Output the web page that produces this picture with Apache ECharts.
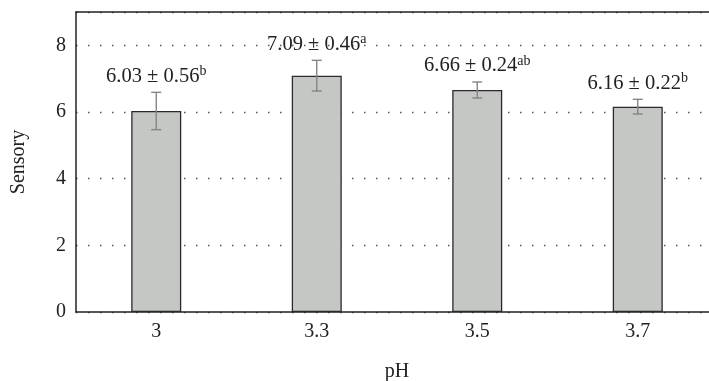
<!DOCTYPE html>
<html>
<head>
<meta charset="utf-8">
<script src="https://cdn.jsdelivr.net/npm/echarts@6/dist/echarts.min.js"></script>
<style>html,body{margin:0;padding:0;background:#fff;}#c{width:709px;height:381px;}</style>
</head>
<body>
<div id="c"></div>
<script>
const categories = ['3', '3.3', '3.5', '3.7'];
const means = [6.03, 7.09, 6.66, 6.16];
const errors = [0.56, 0.46, 0.24, 0.22];
const letters = ['b', 'a', 'ab', 'b'];
const yTicks = [0, 2, 4, 6, 8];

const FONT = 'Liberation Serif';
const chart = echarts.init(document.getElementById('c'));
const errData = means.map((m, i) => [i, m, errors[i], letters[i]]);

chart.setOption({
  animation: false,
  grid: { left: 76, top: 12, width: 642, height: 300, containLabel: false, outerBoundsMode: 'none' },
  xAxis: [{
    type: 'category',
    data: categories,
    axisTick: { show: false },
    axisLine: { lineStyle: { color: '#222', width: 1.5 } },
    axisLabel: { fontFamily: FONT, fontSize: 20, color: '#222', margin: 10 },
    name: 'pH',
    nameLocation: 'middle',
    nameGap: 50,
    nameTextStyle: { fontFamily: FONT, fontSize: 20, color: '#222' }
  }, {
    type: 'category',
    data: categories,
    position: 'top',
    axisTick: { show: false },
    axisLabel: { show: false },
    axisLine: { lineStyle: { color: '#222', width: 1.5 } }
  }],
  yAxis: {
    type: 'value',
    min: 0, max: 9, interval: 2,
    axisLine: { show: true, lineStyle: { color: '#222', width: 1.5 } },
    axisTick: { show: false },
    axisLabel: {
      fontFamily: FONT, fontSize: 20, color: '#222', margin: 10,
      formatter: v => (yTicks.indexOf(v) >= 0 ? String(v) : '')
    },
    splitLine: { show: true, lineStyle: { color: '#555', type: [1.5, 10.5], width: 1.3 } },
    name: 'Sensory',
    nameLocation: 'middle',
    nameGap: 47,
    nameTextStyle: { fontFamily: FONT, fontSize: 20, color: '#222' }
  },
  series: [{
    type: 'bar',
    data: means,
    barWidth: 50,
    itemStyle: { color: '#c5c7c5', borderColor: '#2a2a2a', borderWidth: 1.3 }
  }, {
    type: 'custom',
    data: errData,
    clip: false,
    z: 5,
    renderItem: function (params, api) {
      const i = api.value(0), m = api.value(1), e = api.value(2);
      const letter = errData[params.dataIndex][3];
      const top = api.coord([i, m + e]);
      const bot = api.coord([i, m - e]);
      const cw = 5;
      const ls = { stroke: '#858585', lineWidth: 1.4 };
      return {
        type: 'group',
        children: [
          { type: 'line', shape: { x1: top[0], y1: top[1], x2: bot[0], y2: bot[1] }, style: ls },
          { type: 'line', shape: { x1: top[0] - cw, y1: top[1], x2: top[0] + cw, y2: top[1] }, style: ls },
          { type: 'line', shape: { x1: bot[0] - cw, y1: bot[1], x2: bot[0] + cw, y2: bot[1] }, style: ls },
          {
            type: 'text',
            style: {
              x: top[0], y: top[1] - 4,
              text: '{m|' + m.toFixed(2) + ' ± ' + e.toFixed(2) + '}{s|' + letter + '}',
              align: 'center', verticalAlign: 'bottom',
              rich: {
                m: { fontFamily: FONT, fontSize: 20.5, fill: '#222', lineHeight: 24 },
                s: { fontFamily: FONT, fontSize: 14, fill: '#222', verticalAlign: 'top', lineHeight: 24 }
              }
            }
          }
        ]
      };
    }
  }]
});
</script>
</body>
</html>
